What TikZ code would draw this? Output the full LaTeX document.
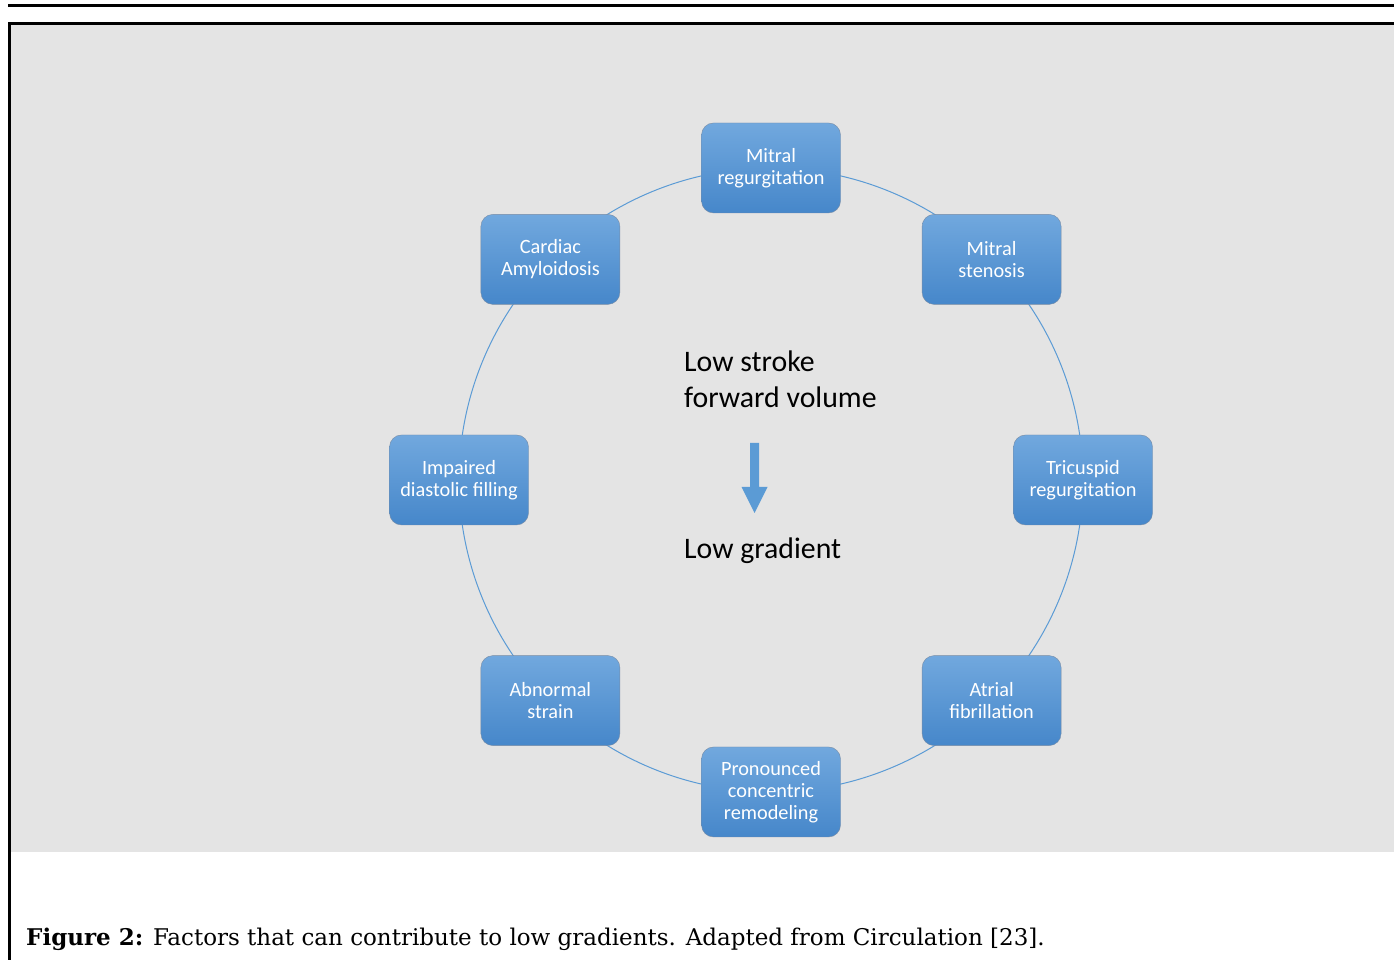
\documentclass[tikz,border=0pt]{standalone}
\usepackage{fontspec}
\setmainfont{DejaVu Serif}
\newfontfamily\calib{Carlito}
\usetikzlibrary{positioning}
\definecolor{ringblue}{RGB}{91,155,213}
\definecolor{boxtop}{RGB}{113,168,222}
\definecolor{boxbot}{RGB}{70,135,202}
\definecolor{boxedge}{RGB}{120,140,165}
\definecolor{panel}{RGB}{228,228,228}
\pgfdeclarelayer{back}
\pgfdeclarelayer{mid}
\pgfsetlayers{back,mid,main}
\tikzset{
  factor/.style={rectangle, rounded corners=12pt, minimum width=139pt, minimum height=90pt,
    inner sep=2pt, top color=boxtop, bottom color=boxbot, draw=boxedge, line width=0.4pt,
    text=white, align=center, font=\calib\fontsize{20.3}{22}\selectfont},
  ring/.style={draw=ringblue, line width=1pt, looseness=0.8846},
  central/.style={align=left, inner sep=0pt, font=\calib\fontsize{29.8}{36}\selectfont, text=black}
}
\begin{document}
\begin{tikzpicture}[x=1pt,y=1pt]
\useasboundingbox (0,0) rectangle (1394,960);
\begin{pgfonlayer}{back}
\fill[panel] (11,108) rectangle (1394,935);
\draw[line width=2.5pt] (8,954.5) -- (1394,954.5);
\draw[line width=3pt] (9.5,0) -- (9.5,936.5) -- (1394,936.5);
\end{pgfonlayer}

\coordinate (c) at (771,480);
\node[factor] (mr)  at (771,792)     {Mitral\\regurgitation};
\node[factor] (ms)  at (991.6,700.6) {Mitral\\stenosis};
\node[factor] (tr)  at (1083,480)    {Tricuspid\\regurgitation};
\node[factor] (af)  at (991.6,259.4) {Atrial\\fibrillation};
\node[factor] (pcr) at (771,168)     {Pronounced\\concentric\\remodeling};
\node[factor] (abs) at (550.4,259.4) {Abnormal\\strain};
\node[factor] (idf) at (459,480)     {Impaired\\diastolic filling};
\node[factor] (ca)  at (550.4,700.6) {Cardiac\\Amyloidosis};

\begin{pgfonlayer}{mid}
\draw[ring] (mr.center)  to[out=0,   in=135]  (ms.center);
\draw[ring] (ms.center)  to[out=-45, in=90]   (tr.center);
\draw[ring] (tr.center)  to[out=-90, in=45]   (af.center);
\draw[ring] (af.center)  to[out=-135,in=0]    (pcr.center);
\draw[ring] (pcr.center) to[out=180, in=-45]  (abs.center);
\draw[ring] (abs.center) to[out=135, in=-90]  (idf.center);
\draw[ring] (idf.center) to[out=90,  in=-135] (ca.center);
\draw[ring] (ca.center)  to[out=45,  in=180]  (mr.center);
\end{pgfonlayer}

\node[central, anchor=base west] (lsv) at (684,552) {Low stroke\\forward volume};
\node[central, anchor=base west] (lg) at (684,401) {Low gradient};
\coordinate (a1) at (754.5,517);
\coordinate (a2) at (754.5,447);
\fill[ringblue] ([xshift=-4.5pt]a1) -- ([xshift=4.5pt]a1) -- ([xshift=4.5pt,yshift=26pt]a2)
  -- ([xshift=13pt,yshift=26pt]a2) -- (a2) -- ([xshift=-13pt,yshift=26pt]a2)
  -- ([xshift=-4.5pt,yshift=26pt]a2) -- cycle;

\node[anchor=base west, inner sep=0pt, font=\fontsize{23}{28}\selectfont] (cap) at (26,14)
  {\textbf{Figure 2:} Factors that can contribute to low gradients. Adapted from Circulation [23].};
\end{tikzpicture}
\end{document}
